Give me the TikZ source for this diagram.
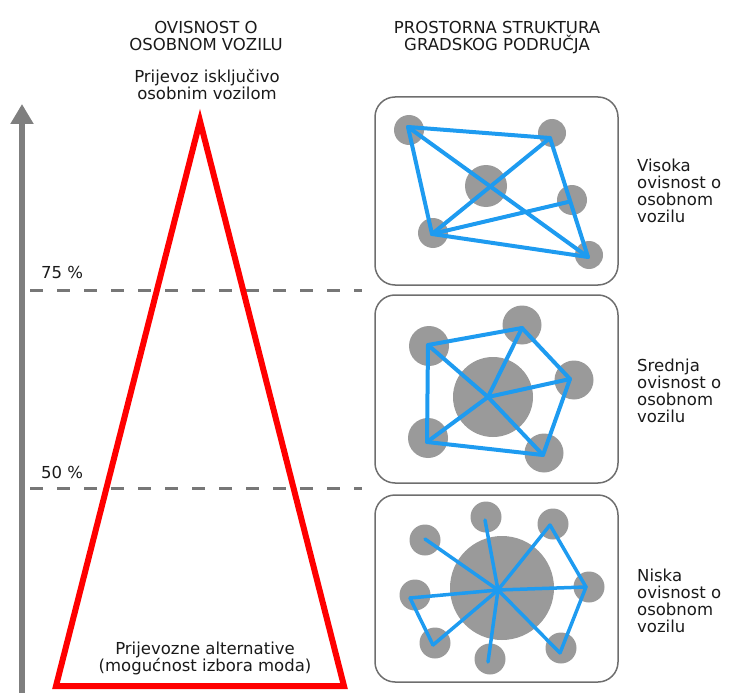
\documentclass[tikz,border=0pt]{standalone}
\usepackage{fontspec}
\setmainfont{DejaVu Sans}
\usetikzlibrary{arrows.meta}
\definecolor{ngray}{HTML}{9A9A9A}
\definecolor{nblue}{HTML}{1E9BF0}
\definecolor{tred}{HTML}{FF0000}
\definecolor{axgray}{HTML}{7F7F7F}
\definecolor{dgray}{HTML}{777777}
\definecolor{boxgray}{HTML}{6E6E6E}
\definecolor{txt}{HTML}{1A1A1A}
\newcommand{\txtfont}[1]{\fontsize{#1}{16.9}\selectfont\lineskiplimit=-30pt\lineskip=0pt}
\begin{document}
\begin{tikzpicture}[x=1pt,y=-1pt,
  sat/.style={circle, fill=ngray, draw=none, minimum size=#1, inner sep=0pt},
  link/.style={nblue, line width=4pt, line cap=round, line join=round},
  thinlink/.style={nblue, line width=3.5pt, line cap=round, line join=round},
  panel/.style={draw=boxgray, line width=1.5pt, rounded corners=20pt},
  head/.style={text=txt, align=center, anchor=north, inner sep=0pt, font=\txtfont{16.5}},
  lab/.style={text=txt, align=left, anchor=north west, inner sep=0pt, font=\txtfont{16.5}},
  pct/.style={text=txt, anchor=base west, inner sep=0pt, font=\txtfont{16.5}},
  thr/.style={dgray, line width=3pt, dash pattern=on 13pt off 14pt}
]
\useasboundingbox (0,0) rectangle (740,693);

% axis arrow
\coordinate (ax0) at (22,693);
\coordinate (ax1) at (22,104);
\draw[axgray, line width=6pt, -{Triangle[width=22pt,length=20pt]}] (ax0) -- (ax1);

% threshold lines
\coordinate (t75a) at (30,290); \coordinate (t75b) at (362,290);
\coordinate (t50a) at (30,488); \coordinate (t50b) at (362,488);
\draw[thr] (t75a) -- (t75b);
\draw[thr] (t50a) -- (t50b);
\node[pct] (l75) at (41,278) {75 \%};
\node[pct] (l50) at (41,478) {50 \%};

% red triangle
\coordinate (tA) at (200,121);
\coordinate (tB) at (56,686);
\coordinate (tC) at (344,686);
\draw[tred, line width=6pt, line join=miter] (tA) -- (tB) -- (tC) -- cycle;

% headings
\node[head] (h1) at (206,21) {OVISNOST O\\OSOBNOM VOZILU};
\node[head] (h2) at (497,21.5) {PROSTORNA STRUKTURA\\GRADSKOG PODRUČJA};
\node[head] (top) at (207,69) {Prijevoz isključivo\\osobnim vozilom};
\node[head] (bot) at (205,642) {Prijevozne alternative\\(mogućnost izbora moda)};

% panels
\node[panel, minimum width=243pt, minimum height=188pt, inner sep=0pt] (box1) at (496.5,191) {};
\node[panel, minimum width=243pt, minimum height=188pt, inner sep=0pt] (box2) at (496.5,389) {};
\node[panel, minimum width=243pt, minimum height=187pt, inner sep=0pt] (box3) at (496.5,588.5) {};

% labels right
\node[lab] (r1) at (637,159) {Visoka\\ovisnost o\\osobnom\\vozilu};
\node[lab] (r2) at (637,359) {Srednja\\ovisnost o\\osobnom\\vozilu};
\node[lab] (r3) at (637,569) {Niska\\ovisnost o\\osobnom\\vozilu};

% ---------- panel 1 : high dependence
\node[sat=30pt] (c1a) at (409,130) {};
\node[sat=28pt] (c1b) at (552,133) {};
\node[sat=42pt] (c1c) at (486,186) {};
\node[sat=30pt] (c1d) at (572,200) {};
\node[sat=30pt] (c1e) at (433,233) {};
\node[sat=28pt] (c1f) at (589,255) {};
\coordinate (p1a) at (408,127);
\coordinate (p1b) at (550,138);
\coordinate (p1d) at (568,202);
\coordinate (p1e) at (432,234);
\coordinate (p1f) at (588,257);
\draw[link] (p1a) -- (p1b) -- (p1f) -- (p1e) -- cycle;
\draw[link] (p1a) -- (p1f);
\draw[link] (p1b) -- (p1e);
\draw[link] (p1e) -- (p1d);

% ---------- panel 2 : medium dependence
\node[sat=80pt] (c2h) at (493,397) {};
\node[sat=40pt] (c2a) at (429,346) {};
\node[sat=39pt] (c2b) at (522,325) {};
\node[sat=39pt] (c2c) at (574,380) {};
\node[sat=39pt] (c2d) at (544,453) {};
\node[sat=40pt] (c2e) at (428,438) {};
\coordinate (hub2) at (488,397);
\coordinate (p2a) at (428,345);
\coordinate (p2b) at (522,328);
\coordinate (p2c) at (570,379);
\coordinate (p2d) at (543,455);
\coordinate (p2e) at (427,442);
\draw[link] (p2a) -- (p2b) -- (p2c) -- (p2d) -- (p2e) -- cycle;
\foreach \p in {p2a,p2b,p2c,p2d,p2e} \draw[link] (hub2) -- (\p);

% ---------- panel 3 : low dependence
\node[sat=104pt] (c3h) at (502,588) {};
\node[sat=31pt] (c3s1) at (425,540) {};
\node[sat=31pt] (c3s2) at (486,517) {};
\node[sat=31pt] (c3s3) at (553,524) {};
\node[sat=31pt] (c3s4) at (589,587) {};
\node[sat=31pt] (c3s5) at (561,648) {};
\node[sat=31pt] (c3s6) at (490,659) {};
\node[sat=31pt] (c3s7) at (435,643) {};
\node[sat=31pt] (c3s8) at (415,595) {};
\coordinate (hub3) at (498,590);
\coordinate (q1) at (425,539);
\coordinate (q2) at (485,520);
\coordinate (q3) at (550,525);
\coordinate (q4) at (586,587);
\coordinate (q5) at (560,653);
\coordinate (q6) at (488,662);
\coordinate (q7) at (433,645);
\coordinate (q8) at (410,598);
\foreach \q in {q1,q2,q3,q4,q5,q6,q7,q8} \draw[thinlink] (hub3) -- (\q);
\draw[thinlink] (q3) -- (q4) -- (q5);
\draw[thinlink] (q8) -- (q7);
\end{tikzpicture}
\end{document}
